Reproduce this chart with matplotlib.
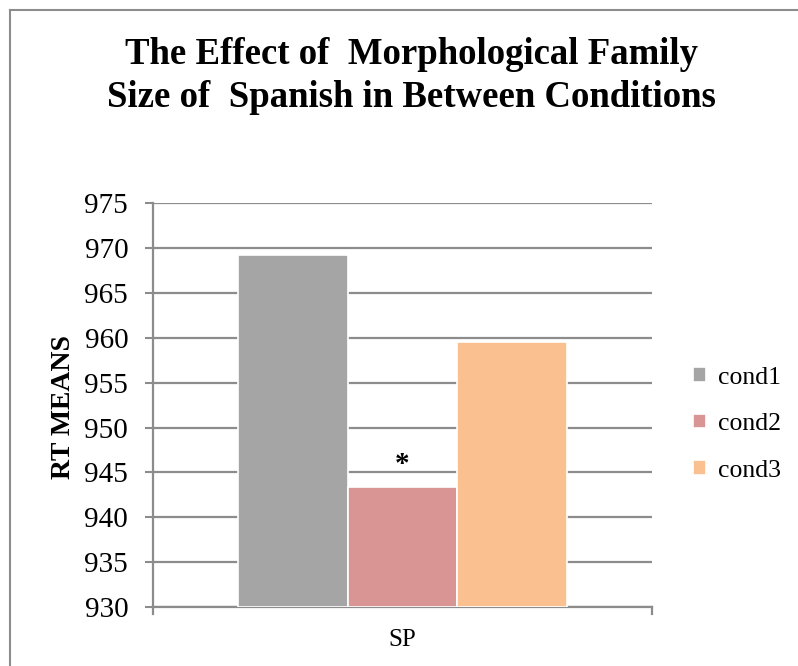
import matplotlib.pyplot as plt
from matplotlib.lines import Line2D

categories = ['SP']
series = ['cond1', 'cond2', 'cond3']
values = [969.2, 943.4, 959.5]
colors = ['#A5A5A5', '#D99594', '#FAC090']
y_ticks = [930, 935, 940, 945, 950, 955, 960, 965, 970, 975]

plt.rcParams['font.family'] = ['Liberation Serif', 'DejaVu Serif']

fig = plt.figure(figsize=(7.98, 6.66), dpi=100)
ax = fig.add_axes([0.192, 0.0886, 0.625, 0.606])

grid_c = '#8C8C8C'
bar_w = 0.22
for i, (name, v, c) in enumerate(zip(series, values, colors)):
    x = (i - 1) * bar_w
    ax.bar(x, v - 930, bottom=930, width=bar_w, color=c, edgecolor='white',
           linewidth=1.2, label=name, zorder=3)

# significance mark above cond2
ax.annotate('*', xy=(0, values[1]), xytext=(0, 6), textcoords='offset points',
            ha='center', va='bottom', fontsize=21, fontweight='bold', zorder=4)

ax.set_xlim(-0.5, 0.5)
ax.set_ylim(930, 975)
ax.set_yticks(y_ticks)
ax.set_yticklabels([str(t) for t in y_ticks], fontsize=21)
ax.set_xticks([0])
ax.set_xticklabels(categories, fontsize=18)
ax.tick_params(axis='x', length=0, pad=16)
ax.tick_params(axis='y', length=6, width=1.5, color=grid_c, pad=12)
ax.yaxis.grid(True, color=grid_c, linewidth=1.6, zorder=0)
ax.set_axisbelow(True)
for s in ['top', 'right']:
    ax.spines[s].set_visible(False)
for s in ['left', 'bottom']:
    ax.spines[s].set_color(grid_c)
    ax.spines[s].set_linewidth(1.6)

# category boundary ticks on the x axis
for xb in (-0.5, 0.5):
    ax.plot([xb, xb], [930, 929.2], color=grid_c, lw=1.6, clip_on=False)

fig.text(0.079, 0.389, 'RT MEANS', rotation=90, ha='center', va='center',
         fontsize=20, fontweight='bold')

fig.text(0.516, 0.886, 'The Effect of  Morphological Family\nSize of  Spanish in Between Conditions',
         ha='center', va='center', fontsize=26.5, fontweight='bold', linespacing=1.32)

leg = fig.legend(loc='center left', bbox_to_anchor=(0.868, 0.363), frameon=False,
                 fontsize=18.5, handlelength=0.5, handleheight=0.5, handletextpad=0.5,
                 labelspacing=0.95, borderpad=0, borderaxespad=0)

# outer chart border (top and left only visible)
fig.add_artist(Line2D([0.0125, 0.0125], [0.0, 0.985], color='#8C8C8C', lw=1.5))
fig.add_artist(Line2D([0.0125, 1.0], [0.985, 0.985], color='#8C8C8C', lw=1.5))

fig.savefig('out.png', dpi=100)
